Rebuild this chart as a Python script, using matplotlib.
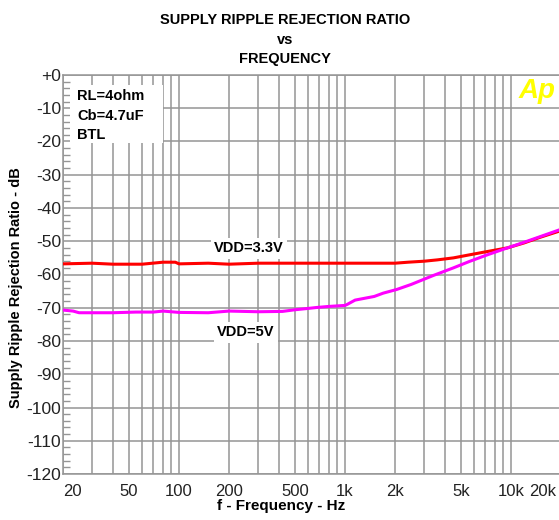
import matplotlib
matplotlib.use("Agg")
import matplotlib.pyplot as plt
import matplotlib.transforms as mtransforms
from matplotlib.ticker import FixedLocator, MultipleLocator, NullFormatter

plt.rcParams['font.family'] = ['Liberation Sans', 'DejaVu Sans']

### DATA ###
freq_33 = [20, 30, 40, 60, 80, 95, 100, 150, 200, 300, 500, 1000, 2000, 2400,
           3000, 3600, 4500, 5600, 7000, 9500, 12000, 15000, 20000]
srr_33 = [-56.8, -56.6, -56.9, -56.9, -56.3, -56.3, -56.8, -56.6, -56.9, -56.6, -56.6,
          -56.6, -56.6, -56.3, -56.0, -55.6, -55.0, -54.1, -53.2, -52.0, -50.5, -48.8, -46.8]

freq_5 = [20, 23, 25, 40, 55, 70, 80, 100, 150, 200, 300, 420, 500, 600, 680, 800,
          1000, 1030, 1150, 1500, 1700, 2050, 2500, 3400, 4500, 5600, 7000, 9000,
          12000, 15000, 20000]
srr_5 = [-70.7, -71.0, -71.5, -71.5, -71.3, -71.3, -71.0, -71.4, -71.5, -71.0, -71.2,
         -71.1, -70.6, -70.2, -69.9, -69.6, -69.3, -69.0, -67.7, -66.6, -65.6, -64.5,
         -63.0, -60.3, -58.0, -56.1, -54.3, -52.4, -50.3, -48.6, -46.4]

xtick_vals = [20, 50, 100, 200, 500, 1000, 2000, 5000, 10000, 20000]
xtick_text = ['20', '50', '100', '200', '500', '1k', '2k', '5k', '10k', '20k']
xgrid_vals = [m * d for d in (10, 100, 1000) for m in range(2, 10)] + \
             [m * 10000 for m in (1, 2)]
ytick_vals = list(range(0, -130, -10))
ytick_text = ['+0'] + [str(v) for v in ytick_vals[1:]]
notes = ['RL=4ohm', 'Cb=4.7uF', 'BTL']

### PLOT ###
W, H = 559, 520
fig = plt.figure(figsize=(W / 100, H / 100), dpi=100)
ax = fig.add_axes([63 / W, 46 / H, 498 / W, 399 / H])
gridc = '#959595'

ax.plot(freq_33, srr_33, color='#ff0000', lw=2.2, zorder=3)
ax.plot(freq_5, srr_5, color='#ff00ff', lw=2.2, zorder=3)

ax.set_xscale('log')
ax.set_xlim(20, 20000)
ax.set_ylim(-120, 0)
ax.xaxis.set_major_locator(FixedLocator(xtick_vals))
ax.set_xticklabels(xtick_text)
ax.xaxis.set_minor_locator(FixedLocator(xgrid_vals))
ax.xaxis.set_minor_formatter(NullFormatter())
ax.set_yticks(ytick_vals)
ax.set_yticklabels(ytick_text)
ax.yaxis.set_minor_locator(MultipleLocator(2))

ax.tick_params(axis='x', which='both', length=0, pad=7, labelsize=12, labelcolor='#222222')
ax.tick_params(axis='y', which='major', length=0, pad=1.5, labelsize=12.5, labelcolor='#222222')
ax.tick_params(axis='y', which='minor', direction='in', length=5, width=1, color=gridc)
ax.grid(True, axis='x', which='both', color=gridc, lw=1.1)
ax.grid(True, axis='y', which='major', color=gridc, lw=1.1)
for s in ax.spines.values():
    s.set_color(gridc)
    s.set_linewidth(1.1)

labels = ax.get_xticklabels()
labels[0].set_ha('left')
labels[-1].set_ha('right')
labels[-1].set_transform(labels[-1].get_transform() +
                         mtransforms.ScaledTranslation(-0.05, 0, fig.dpi_scale_trans))

# white box behind the test conditions
fig.patches.append(plt.Rectangle((70 / W, 1 - 143 / H), 93 / W, 58 / H,
                                 transform=fig.transFigure, facecolor='white',
                                 edgecolor='none', zorder=1))
for i, t in enumerate(notes):
    fig.text(77 / W, 1 - (96 + 19.5 * i) / H, t, ha='left', va='center',
             fontsize=10.5, fontweight='bold')

box = dict(facecolor='white', edgecolor='none', pad=2.5)
fig.text(249 / W, 1 - 248 / H, 'VDD=3.3V', ha='center', va='center',
         fontsize=10.5, fontweight='bold', bbox=box)
fig.text(246 / W, 1 - 332 / H, 'VDD=5V', ha='center', va='center',
         fontsize=10.5, fontweight='bold', bbox=box)

fig.text(537 / W, 1 - 98 / H, 'Ap', ha='center', va='baseline', fontsize=20,
         fontweight='bold', style='italic', color='#ffff00')

for i, t in enumerate(['SUPPLY RIPPLE REJECTION RATIO', 'vs', 'FREQUENCY']):
    fig.text(285 / W, 1 - (20 + 19.5 * i) / H, t, ha='center', va='center',
             fontsize=10.5, fontweight='bold')

fig.text(16 / W, 1 - 288 / H, 'Supply Ripple Rejection Ratio - dB', rotation=90,
         ha='center', va='center', fontsize=10.5, fontweight='bold')
fig.text(281 / W, 1 - 506 / H, 'f - Frequency - Hz', ha='center', va='center',
         fontsize=11, fontweight='bold')

fig.savefig('out.png', dpi=100)
